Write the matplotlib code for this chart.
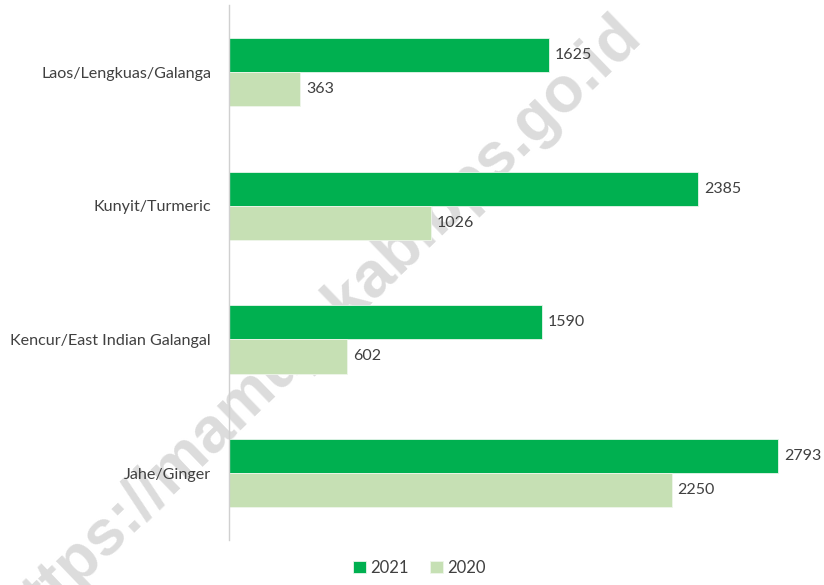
import numpy as np
import matplotlib.pyplot as plt

# data (top to bottom as shown)
categories = ["Laos/Lengkuas/Galanga", "Kunyit/Turmeric",
              "Kencur/East Indian Galangal", "Jahe/Ginger"]
vals_2021 = [1625, 2385, 1590, 2793]
vals_2020 = [363, 1026, 602, 2250]
series_labels = ["2021", "2020"]

plt.rcParams['font.family'] = ['Lato', 'DejaVu Sans']

c21 = "#00B050"
c20 = "#C6E0B4"
txt = "#404040"

fig = plt.figure(figsize=(8.24, 5.85), dpi=100)
ax = fig.add_axes([0.278, 0.077, 0.722, 0.914])
ax.patch.set_alpha(0)

y = np.arange(len(categories))
h = 0.255
b1 = ax.barh(y - h / 2, vals_2021, height=h, color=c21, edgecolor="#e8f5ec", linewidth=0.6, label=series_labels[0])
b2 = ax.barh(y + h / 2, vals_2020, height=h, color=c20, edgecolor="#eef6ea", linewidth=0.6, label=series_labels[1])

for bars in (b1, b2):
    for r in bars:
        ax.text(r.get_width() + 30, r.get_y() + r.get_height() / 2, str(int(r.get_width())),
                va="center", ha="left", fontsize=11.5, color=txt)

ax.set_ylim(len(categories) - 0.5, -0.5)
ax.set_xlim(0, 3025)
ax.set_yticks(y)
ax.set_yticklabels(categories, fontsize=11.6, color=txt)
ax.set_xticks([])
ax.tick_params(axis="y", length=0, pad=13)
for s in ["top", "right", "bottom"]:
    ax.spines[s].set_visible(False)
ax.spines["left"].set_color("#d0d0d0")
ax.spines["left"].set_linewidth(1)

leg = fig.legend(handles=[b1, b2], loc="lower center", ncol=2, frameon=False,
                 bbox_to_anchor=(0.509, -0.01), fontsize=12, handlelength=0.75,
                 handleheight=0.75, handletextpad=0.25, columnspacing=1.3)
for t in leg.get_texts():
    t.set_color(txt)

# watermark (behind the bars)
fig.text(0.386, 0.44, "https://mamujukab.bps.go.id", fontsize=46, fontweight="bold",
         color="#dcdcdc", rotation=44, ha="center", va="center",
         family=["Liberation Sans", "DejaVu Sans"], zorder=-1)

fig.savefig("out.png", dpi=100)
